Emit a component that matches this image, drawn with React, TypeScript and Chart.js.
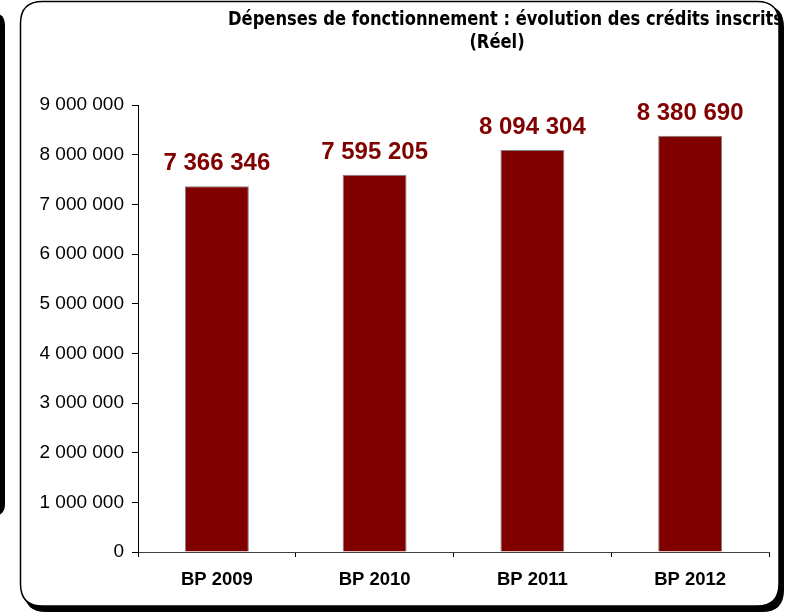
import React, { useEffect, useRef } from "react";
import { Chart, registerables } from "chart.js";

Chart.register(...registerables);

const categories = ["BP 2009", "BP 2010", "BP 2011", "BP 2012"];
const values = [7366346, 7595205, 8094304, 8380690];
const titleLine1 = "Dépenses de fonctionnement : évolution des crédits inscrits";
const titleLine2 = "(Réel)";
const yMax = 9000000;
const yStep = 1000000;

const fmt = (n: number) =>
  Math.round(n).toString().replace(/\B(?=(\d{3})+(?!\d))/g, " ");

function rr(ctx: CanvasRenderingContext2D, x: number, y: number, w: number, h: number, r: number) {
  ctx.beginPath();
  ctx.moveTo(x + r, y);
  ctx.lineTo(x + w - r, y);
  ctx.quadraticCurveTo(x + w, y, x + w, y + r);
  ctx.lineTo(x + w, y + h - r);
  ctx.quadraticCurveTo(x + w, y + h, x + w - r, y + h);
  ctx.lineTo(x + r, y + h);
  ctx.quadraticCurveTo(x, y + h, x, y + h - r);
  ctx.lineTo(x, y + r);
  ctx.quadraticCurveTo(x, y, x + r, y);
  ctx.closePath();
}

const framePlugin = {
  id: "frame",
  beforeDraw(chart: any) {
    const ctx = chart.ctx as CanvasRenderingContext2D;
    ctx.save();
    ctx.fillStyle = "#ffffff";
    ctx.fillRect(0, 0, chart.width, chart.height);
    ctx.fillStyle = "#000";
    rr(ctx, -30, 13, 35, 503, 12);
    ctx.fill();
    rr(ctx, 24, 5, 760, 607, 22);
    ctx.fill();
    ctx.fillStyle = "#fff";
    rr(ctx, 20.5, 1.5, 758.5, 604.5, 22);
    ctx.fill();
    ctx.strokeStyle = "#000";
    ctx.lineWidth = 1.5;
    ctx.stroke();
    ctx.restore();
  },
  afterDraw(chart: any) {
    const ctx = chart.ctx as CanvasRenderingContext2D;
    ctx.save();
    ctx.fillStyle = "#000";
    ctx.textBaseline = "alphabetic";
    ctx.font = "bold 19.5px 'DejaVu Sans'";
    const w1 = ctx.measureText(titleLine1).width;
    const target = 555;
    const s = target / w1;
    ctx.save();
    ctx.translate(228, 25);
    ctx.scale(s, 1);
    ctx.textAlign = "left";
    ctx.fillText(titleLine1, 0, 0);
    ctx.restore();
    ctx.save();
    ctx.translate(497, 48);
    ctx.scale(s, 1);
    ctx.textAlign = "center";
    ctx.fillText(titleLine2, 0, 0);
    ctx.restore();
    ctx.restore();
  },
};

const valueLabelPlugin = {
  id: "valueLabels",
  afterDatasetsDraw(chart: any) {
    const ctx = chart.ctx as CanvasRenderingContext2D;
    const meta = chart.getDatasetMeta(0);
    ctx.save();
    ctx.fillStyle = "#800000";
    ctx.font = "bold 24px 'Liberation Sans', Arial, sans-serif";
    ctx.textAlign = "center";
    ctx.textBaseline = "alphabetic";
    meta.data.forEach((bar: any, i: number) => {
      ctx.fillText(fmt(values[i]), bar.x, bar.y - 16);
    });
    ctx.restore();
  },
};

export default function App() {
  const ref = useRef<HTMLCanvasElement | null>(null);
  useEffect(() => {
    if (!ref.current) return;
    const chart = new Chart(ref.current, {
      type: "bar",
      data: {
        labels: categories,
        datasets: [
          {
            data: values,
            backgroundColor: "#800000",
            borderColor: "#808080",
            borderWidth: 1,
            barPercentage: 0.405,
            categoryPercentage: 1,
          },
        ],
      },
      options: {
        responsive: false,
        animation: false,
        devicePixelRatio: 1,
        layout: { padding: { top: 105, right: 21, bottom: 0, left: 0 } },
        plugins: {
          legend: { display: false },
          title: { display: false },
          tooltip: { enabled: false },
        },
        scales: {
          x: {
            offset: true,
            grid: {
              display: true,
              offset: true,
              drawOnChartArea: false,
              drawTicks: true,
              tickLength: 5,
              color: "#000",
            },
            border: { display: true, color: "#404040", width: 1 },
            ticks: {
              color: "#000",
              padding: 12,
              font: { family: "'Liberation Sans', Arial, sans-serif", size: 18.5, weight: "bold" },
            },
            afterFit: (scale: any) => {
              scale.height = 61;
            },
          },
          y: {
            min: 0,
            max: yMax,
            grid: {
              display: true,
              drawOnChartArea: false,
              drawTicks: true,
              tickLength: 6,
              color: "#000",
            },
            border: { display: true, color: "#000", width: 1 },
            ticks: {
              stepSize: yStep,
              color: "#000",
              padding: 8,
              font: { family: "'Liberation Sans', Arial, sans-serif", size: 19 },
              callback: (v: any) => fmt(Number(v)),
            },
            afterFit: (scale: any) => {
              scale.width = 138;
            },
          },
        },
      },
      plugins: [framePlugin, valueLabelPlugin],
    });
    return () => chart.destroy();
  }, []);
  return (
    <div style={{ position: "absolute", left: 0, top: 0, width: 790, height: 613 }}>
      <canvas ref={ref} width={790} height={613} style={{ display: "block" }} />
    </div>
  );
}
